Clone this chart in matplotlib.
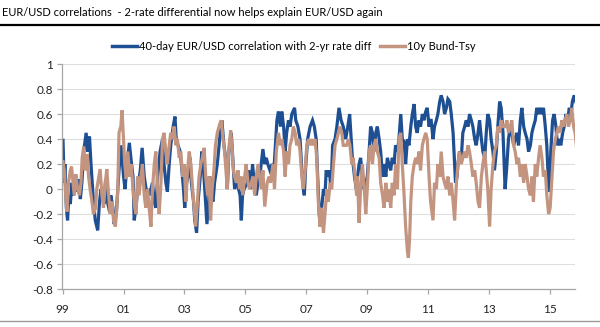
import matplotlib
matplotlib.use("Agg")
import matplotlib.pyplot as plt
from matplotlib.lines import Line2D

plt.rcParams.update({"font.family": ["Lato", "DejaVu Sans"]})

# 40-day EUR/USD correlation with 2-yr rate diff (decimal year, value)
corr_2y_dates = [
    1999.01, 1999.05, 1999.07, 1999.12, 1999.16, 1999.20, 1999.25, 1999.30, 1999.36, 1999.41,
    1999.47, 1999.52, 1999.58, 1999.63, 1999.69, 1999.77, 1999.82, 1999.88, 1999.93, 1999.97,
    2000.01, 2000.07, 2000.15, 2000.21, 2000.26, 2000.32, 2000.36, 2000.41, 2000.47, 2000.54,
    2000.58, 2000.65, 2000.69, 2000.76, 2000.80, 2000.85, 2000.92, 2001.00, 2001.05, 2001.11,
    2001.19, 2001.24, 2001.31, 2001.35, 2001.41, 2001.46, 2001.55, 2001.61, 2001.68, 2001.77,
    2001.81, 2001.85, 2001.95, 2002.01, 2002.06, 2002.12, 2002.20, 2002.28, 2002.33, 2002.39,
    2002.44, 2002.50, 2002.55, 2002.63, 2002.69, 2002.73, 2002.79, 2002.86, 2002.90, 2002.97,
    2003.01, 2003.07, 2003.12, 2003.19, 2003.23, 2003.30, 2003.34, 2003.40, 2003.45, 2003.52,
    2003.57, 2003.63, 2003.68, 2003.74, 2003.80, 2003.83, 2003.88, 2003.94, 2003.99, 2004.08,
    2004.14, 2004.19, 2004.23, 2004.30, 2004.38, 2004.41, 2004.46, 2004.54, 2004.60, 2004.65,
    2004.72, 2004.78, 2004.83, 2004.87, 2004.91, 2004.96, 2005.07, 2005.11, 2005.18, 2005.24,
    2005.31, 2005.36, 2005.42, 2005.50, 2005.58, 2005.64, 2005.69, 2005.74, 2005.81, 2005.88,
    2005.94, 2005.99, 2006.04, 2006.09, 2006.16, 2006.20, 2006.26, 2006.31, 2006.36, 2006.42,
    2006.47, 2006.53, 2006.62, 2006.66, 2006.73, 2006.80, 2006.86, 2006.91, 2006.94, 2006.99,
    2007.05, 2007.13, 2007.21, 2007.27, 2007.33, 2007.38, 2007.43, 2007.47, 2007.51, 2007.57,
    2007.62, 2007.66, 2007.71, 2007.76, 2007.82, 2007.87, 2007.95, 2008.01, 2008.08, 2008.15,
    2008.22, 2008.30, 2008.37, 2008.43, 2008.48, 2008.52, 2008.59, 2008.65, 2008.69, 2008.74,
    2008.79, 2008.85, 2008.90, 2008.96, 2009.01, 2009.07, 2009.12, 2009.18, 2009.23, 2009.29,
    2009.34, 2009.40, 2009.45, 2009.51, 2009.56, 2009.62, 2009.67, 2009.72, 2009.78, 2009.83,
    2009.89, 2009.94, 2010.00, 2010.05, 2010.11, 2010.16, 2010.22, 2010.27, 2010.33, 2010.38,
    2010.44, 2010.49, 2010.55, 2010.60, 2010.65, 2010.71, 2010.76, 2010.82, 2010.87, 2010.93,
    2010.98, 2011.04, 2011.09, 2011.11, 2011.17, 2011.22, 2011.28, 2011.33, 2011.39, 2011.44,
    2011.50, 2011.55, 2011.61, 2011.66, 2011.72, 2011.77, 2011.83, 2011.88, 2011.91, 2011.96,
    2011.99, 2012.04, 2012.10, 2012.15, 2012.21, 2012.26, 2012.32, 2012.37, 2012.43, 2012.48,
    2012.54, 2012.59, 2012.65, 2012.70, 2012.76, 2012.81, 2012.87, 2012.92, 2012.97, 2013.03,
    2013.08, 2013.14, 2013.19, 2013.25, 2013.30, 2013.36, 2013.41, 2013.47, 2013.54, 2013.60,
    2013.65, 2013.71, 2013.76, 2013.82, 2013.87, 2013.93, 2013.98, 2014.04, 2014.09, 2014.15,
    2014.20, 2014.26, 2014.31, 2014.37, 2014.42, 2014.47, 2014.53, 2014.58, 2014.64, 2014.69,
    2014.75, 2014.80, 2014.86, 2014.91, 2014.97, 2015.00, 2015.04, 2015.10, 2015.15, 2015.21,
    2015.26, 2015.32, 2015.37, 2015.43, 2015.48, 2015.54, 2015.59, 2015.65, 2015.70, 2015.75,
    2015.81, 2015.86,
]
corr_2y = [
    0.39, 0.05, 0.20, -0.15, -0.25, -0.05, -0.12, 0.05, -0.05, 0.10,
    -0.02, 0.08, -0.08, 0.05, 0.30, 0.45, 0.30, 0.42, 0.20, 0.05,
    -0.10, -0.25, -0.33, -0.10, 0.00, -0.05, -0.12, 0.08, -0.10, -0.18,
    -0.05, -0.15, -0.28, -0.20, -0.05, 0.15, 0.35, 0.10, 0.00, 0.20,
    0.37, 0.25, 0.10, -0.25, -0.15, 0.00, 0.15, 0.33, 0.10, -0.05,
    0.00, -0.05, 0.05, -0.10, -0.15, 0.10, 0.30, 0.40, 0.20, 0.05,
    -0.02, 0.20, 0.35, 0.50, 0.58, 0.40, 0.35, 0.30, 0.20, 0.00,
    -0.15, 0.05, 0.10, 0.25, 0.05, -0.10, -0.25, -0.35, -0.10, 0.10,
    0.30, 0.15, -0.05, -0.28, -0.10, 0.10, -0.05, -0.10, 0.05, 0.20,
    0.35, 0.50, 0.55, 0.35, 0.20, 0.00, 0.30, 0.45, 0.20, 0.00,
    0.10, 0.00, -0.05, -0.25, -0.05, 0.00, 0.05, 0.15, 0.00, 0.20,
    0.00, -0.05, 0.05, 0.15, 0.32, 0.20, 0.25, 0.20, 0.15, 0.20,
    0.15, 0.35, 0.55, 0.62, 0.50, 0.62, 0.50, 0.30, 0.45, 0.55,
    0.50, 0.60, 0.65, 0.55, 0.50, 0.40, 0.15, 0.00, -0.05, 0.20,
    0.40, 0.50, 0.55, 0.50, 0.40, 0.10, -0.20, -0.30, -0.15, 0.00,
    -0.05, 0.15, 0.10, 0.15, 0.00, 0.35, 0.40, 0.50, 0.65, 0.55,
    0.50, 0.40, 0.50, 0.60, 0.40, 0.25, 0.10, 0.00, 0.10, 0.20,
    0.25, 0.10, 0.00, 0.05, 0.10, 0.30, 0.50, 0.45, 0.30, 0.45,
    0.50, 0.40, 0.30, 0.10, 0.20, 0.10, 0.25, 0.20, 0.15, 0.25,
    0.20, 0.35, 0.30, 0.40, 0.60, 0.40, 0.38, 0.20, 0.40, 0.35,
    0.50, 0.60, 0.68, 0.50, 0.45, 0.55, 0.50, 0.60, 0.55, 0.62,
    0.65, 0.50, 0.55, 0.55, 0.40, 0.50, 0.55, 0.60, 0.70, 0.75,
    0.70, 0.60, 0.65, 0.72, 0.70, 0.60, 0.45, 0.20, 0.05, 0.10,
    0.20, 0.30, 0.25, 0.45, 0.50, 0.55, 0.50, 0.60, 0.55, 0.50,
    0.40, 0.35, 0.45, 0.55, 0.40, 0.30, 0.25, 0.45, 0.60, 0.55,
    0.40, 0.30, 0.15, 0.30, 0.50, 0.70, 0.65, 0.45, 0.00, 0.20,
    0.40, 0.50, 0.45, 0.35, 0.40, 0.45, 0.35, 0.55, 0.65, 0.50,
    0.45, 0.40, 0.30, 0.35, 0.45, 0.50, 0.55, 0.65, 0.60, 0.65,
    0.60, 0.65, 0.50, 0.35, 0.00, -0.02, 0.30, 0.55, 0.60, 0.50,
    0.35, 0.40, 0.35, 0.45, 0.50, 0.60, 0.55, 0.65, 0.60, 0.70,
    0.75, 0.70,
]

# 10y Bund-Tsy correlation (decimal year, value)
bund_tsy_dates = [
    1999.01, 1999.05, 1999.10, 1999.14, 1999.19, 1999.25, 1999.29, 1999.34, 1999.38, 1999.43,
    1999.49, 1999.55, 1999.60, 1999.64, 1999.69, 1999.74, 1999.80, 1999.85, 1999.90, 1999.96,
    2000.01, 2000.08, 2000.12, 2000.19, 2000.23, 2000.29, 2000.34, 2000.40, 2000.45, 2000.51,
    2000.56, 2000.62, 2000.67, 2000.73, 2000.78, 2000.81, 2000.85, 2000.91, 2000.95, 2001.00,
    2001.04, 2001.09, 2001.14, 2001.20, 2001.25, 2001.31, 2001.37, 2001.41, 2001.46, 2001.51,
    2001.57, 2001.62, 2001.68, 2001.73, 2001.79, 2001.84, 2001.90, 2001.95, 2002.01, 2002.06,
    2002.12, 2002.17, 2002.23, 2002.28, 2002.33, 2002.39, 2002.44, 2002.50, 2002.55, 2002.61,
    2002.66, 2002.72, 2002.77, 2002.83, 2002.88, 2002.94, 2002.99, 2003.05, 2003.10, 2003.16,
    2003.21, 2003.27, 2003.32, 2003.37, 2003.43, 2003.48, 2003.54, 2003.59, 2003.65, 2003.70,
    2003.76, 2003.81, 2003.86, 2003.91, 2003.97, 2004.02, 2004.08, 2004.16, 2004.21, 2004.27,
    2004.32, 2004.38, 2004.41, 2004.45, 2004.52, 2004.56, 2004.61, 2004.65, 2004.71, 2004.76,
    2004.81, 2004.87, 2004.92, 2004.98, 2005.03, 2005.09, 2005.14, 2005.20, 2005.25, 2005.31,
    2005.36, 2005.42, 2005.47, 2005.53, 2005.58, 2005.64, 2005.72, 2005.78, 2005.83, 2005.91,
    2005.96, 2006.02, 2006.09, 2006.16, 2006.20, 2006.26, 2006.31, 2006.36, 2006.42, 2006.47,
    2006.53, 2006.58, 2006.64, 2006.69, 2006.75, 2006.80, 2006.86, 2006.91, 2006.97, 2007.02,
    2007.08, 2007.13, 2007.18, 2007.24, 2007.29, 2007.35, 2007.40, 2007.46, 2007.51, 2007.57,
    2007.62, 2007.68, 2007.73, 2007.79, 2007.84, 2007.90, 2007.95, 2008.01, 2008.06, 2008.11,
    2008.17, 2008.22, 2008.28, 2008.33, 2008.39, 2008.44, 2008.50, 2008.55, 2008.61, 2008.66,
    2008.69, 2008.74, 2008.79, 2008.85, 2008.90, 2008.96, 2009.01, 2009.07, 2009.12, 2009.18,
    2009.23, 2009.29, 2009.34, 2009.40, 2009.45, 2009.51, 2009.56, 2009.62, 2009.67, 2009.72,
    2009.78, 2009.83, 2009.89, 2009.94, 2010.00, 2010.05, 2010.11, 2010.16, 2010.22, 2010.27,
    2010.33, 2010.36, 2010.40, 2010.44, 2010.49, 2010.55, 2010.60, 2010.65, 2010.71, 2010.76,
    2010.82, 2010.87, 2010.93, 2010.98, 2011.04, 2011.09, 2011.17, 2011.22, 2011.28, 2011.33,
    2011.39, 2011.44, 2011.50, 2011.55, 2011.61, 2011.66, 2011.72, 2011.77, 2011.83, 2011.88,
    2011.94, 2011.99, 2012.04, 2012.10, 2012.15, 2012.21, 2012.26, 2012.32, 2012.37, 2012.43,
    2012.48, 2012.54, 2012.59, 2012.65, 2012.70, 2012.76, 2012.81, 2012.87, 2012.92, 2012.97,
    2013.03, 2013.08, 2013.14, 2013.19, 2013.25, 2013.30, 2013.36, 2013.41, 2013.47, 2013.54,
    2013.60, 2013.65, 2013.71, 2013.76, 2013.82, 2013.87, 2013.93, 2013.98, 2014.04, 2014.09,
    2014.15, 2014.20, 2014.26, 2014.31, 2014.37, 2014.42, 2014.47, 2014.53, 2014.58, 2014.64,
    2014.69, 2014.75, 2014.80, 2014.86, 2014.91, 2014.97, 2015.02, 2015.08, 2015.13, 2015.19,
    2015.24, 2015.29, 2015.35, 2015.40, 2015.46, 2015.51, 2015.57, 2015.62, 2015.68, 2015.73,
    2015.79, 2015.84, 2015.88,
]
bund_tsy = [
    0.22, 0.15, -0.05, -0.18, 0.05, 0.15, 0.18, 0.05, -0.05, 0.12,
    0.00, -0.05, 0.05, 0.25, 0.34, 0.15, 0.28, 0.10, 0.00, -0.10,
    -0.20, -0.15, 0.00, 0.10, 0.16, -0.05, -0.15, 0.05, 0.16, -0.05,
    -0.20, -0.10, -0.25, -0.30, -0.15, 0.00, 0.45, 0.50, 0.63, 0.40,
    0.20, 0.08, 0.30, 0.10, 0.20, 0.00, -0.15, -0.20, 0.10, -0.05,
    0.10, 0.20, -0.05, -0.15, 0.00, -0.15, -0.30, 0.00, 0.20, 0.30,
    0.00, -0.20, 0.05, 0.40, 0.45, 0.30, 0.20, 0.35, 0.45, 0.40,
    0.50, 0.35, 0.40, 0.25, 0.30, 0.10, 0.20, -0.10, 0.15, 0.30,
    0.20, 0.00, -0.15, -0.30, -0.10, 0.10, 0.20, 0.25, 0.33, 0.10,
    -0.05, 0.10, -0.25, 0.00, 0.15, 0.35, 0.45, 0.52, 0.55, 0.40,
    0.30, 0.10, 0.00, 0.30, 0.47, 0.35, 0.15, 0.10, 0.05, 0.15,
    0.00, 0.10, -0.05, 0.10, 0.20, 0.05, 0.00, 0.05, 0.10, -0.05,
    0.10, 0.20, 0.10, 0.00, 0.15, -0.14, 0.05, 0.10, 0.05, 0.20,
    0.00, 0.30, 0.45, 0.35, 0.40, 0.30, 0.10, 0.30, 0.20, 0.35,
    0.40, 0.50, 0.45, 0.35, 0.40, 0.30, 0.10, 0.00, 0.15, 0.35,
    0.40, 0.35, 0.40, 0.35, 0.40, 0.25, -0.10, -0.30, -0.15, -0.35,
    -0.20, 0.00, -0.10, 0.05, 0.00, 0.20, 0.35, 0.40, 0.45, 0.50,
    0.45, 0.35, 0.35, 0.35, 0.40, 0.35, 0.20, 0.25, 0.10, -0.05,
    0.10, -0.27, 0.00, 0.20, 0.05, -0.20, 0.00, 0.30, 0.35, 0.20,
    0.35, 0.40, 0.30, 0.25, 0.05, -0.05, -0.15, 0.05, -0.10, 0.00,
    -0.15, 0.05, -0.05, 0.20, 0.00, 0.40, 0.45, 0.20, -0.05, -0.30,
    -0.50, -0.55, -0.40, -0.10, 0.10, 0.20, 0.25, 0.20, 0.30, 0.15,
    0.35, 0.40, 0.45, 0.40, 0.10, -0.10, -0.25, 0.05, 0.00, 0.20,
    0.10, 0.30, 0.10, 0.05, 0.00, 0.10, -0.05, 0.05, -0.10, -0.25,
    0.05, 0.20, 0.30, 0.20, 0.25, 0.30, 0.25, 0.35, 0.30, 0.20,
    0.10, 0.15, 0.05, -0.10, -0.15, 0.10, 0.20, 0.30, 0.15, 0.00,
    -0.30, 0.00, 0.20, 0.30, 0.35, 0.50, 0.45, 0.55, 0.50, 0.50,
    0.55, 0.45, 0.50, 0.55, 0.35, 0.30, 0.20, 0.25, 0.10, 0.20,
    0.05, 0.20, 0.10, 0.00, -0.05, 0.10, -0.10, 0.20, 0.10, 0.25,
    0.35, 0.25, 0.10, 0.15, -0.05, -0.20, -0.15, 0.10, 0.30, 0.40,
    0.45, 0.50, 0.45, 0.55, 0.50, 0.55, 0.60, 0.50, 0.55, 0.65,
    0.50, 0.45, 0.35,
]

year_ticks = [1999, 2001, 2003, 2005, 2007, 2009, 2011, 2013, 2015]
year_labels = ["99", "01", "03", "05", "07", "09", "11", "13", "15"]
y_ticks = [-0.8, -0.6, -0.4, -0.2, 0, 0.2, 0.4, 0.6, 0.8, 1]
y_labels = ["-0.8", "-0.6", "-0.4", "-0.2", "0", "0.2", "0.4", "0.6", "0.8", "1"]

blue = "#1f4f93"
brown = "#c39580"
axis_grey = "#a6a6a6"

fig = plt.figure(figsize=(6, 3.27), dpi=100)
ax = fig.add_axes([0.104, 0.116, 0.854, 0.688])

ax.plot(corr_2y_dates, corr_2y, color=blue, lw=2.3, solid_joinstyle="miter")
ax.plot(bund_tsy_dates, bund_tsy, color=brown, lw=2.3, solid_joinstyle="miter")

ax.set_xlim(1998.99, 2015.83)
ax.set_ylim(-0.8, 1.0)
ax.set_yticks(y_ticks, labels=y_labels)
ax.set_xticks(year_ticks, labels=year_labels)
ax.grid(axis="y", color="#dedede", lw=0.8)
ax.set_axisbelow(True)
for side in ["top", "right"]:
    ax.spines[side].set_visible(False)
for side in ["left", "bottom"]:
    ax.spines[side].set_color(axis_grey)
    ax.spines[side].set_linewidth(0.9)
ax.tick_params(axis="both", colors=axis_grey, labelcolor="#222222",
               length=3.5, width=0.9, labelsize=8.5)
ax.tick_params(axis="x", pad=7)

handles = [
    Line2D([], [], color=blue, lw=2.5),
    Line2D([], [], color=brown, lw=2.5),
]
fig.legend(handles, ["40-day EUR/USD correlation with 2-yr rate diff", "10y Bund-Tsy"],
           loc="center", bbox_to_anchor=(0.49, 0.857), ncol=2, frameon=False,
           handlelength=2.2, handletextpad=0.2, columnspacing=0.8,
           prop={"size": 8})

fig.text(0.003, 0.963, "EUR/USD correlations  - 2-rate differential now helps explain EUR/USD again",
         fontsize=8, va="center", ha="left")
fig.add_artist(Line2D([0, 1], [0.924, 0.924], color="black", lw=1.6, transform=fig.transFigure))
fig.add_artist(Line2D([0, 1], [0.018, 0.018], color="#9a9a9a", lw=1.0, transform=fig.transFigure))

fig.savefig("out.png", dpi=100)
